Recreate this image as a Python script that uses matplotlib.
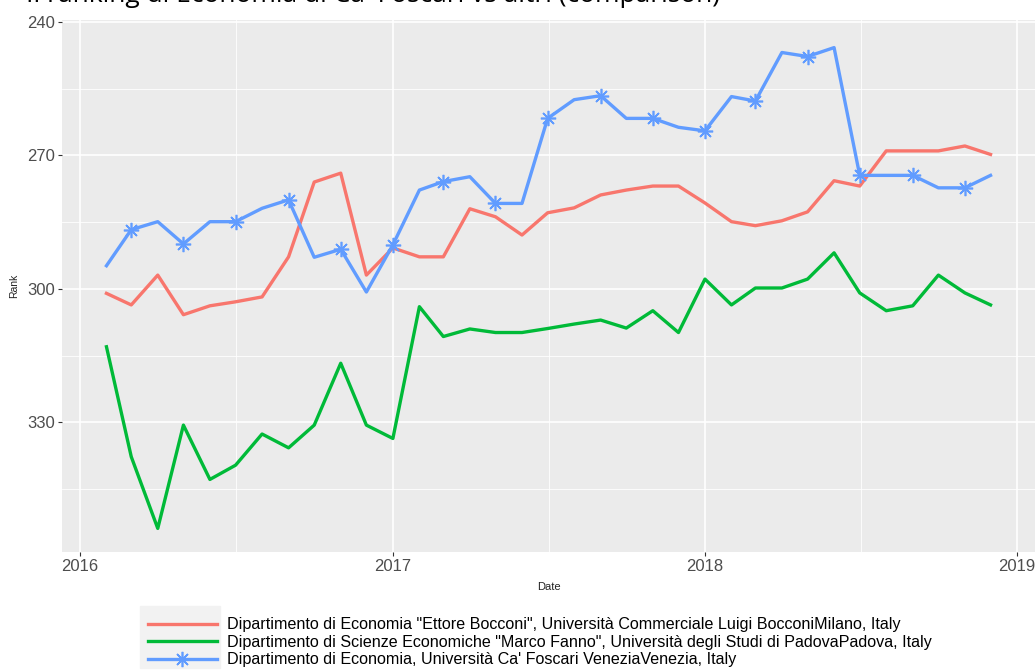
#### Workspace setup ####
import pandas as pd
import matplotlib
matplotlib.use("Agg")
import matplotlib.pyplot as plt
import matplotlib.dates as mdates
from matplotlib.patches import Rectangle

# 1) Data (monthly, Feb 2016 - Dec 2018)
months = pd.date_range("2016-02-01", periods=35, freq="MS")

bocconi = [301, 303.6, 296.9, 305.8, 303.8, 302.9, 301.8, 292.8, 276, 274,
           296.9, 290.8, 292.8, 292.8, 282, 283.8, 287.9, 282.9, 281.8, 278.9,
           277.8, 276.9, 276.9, 280.7, 284.9, 285.8, 284.7, 282.7, 275.7, 276.9,
           269, 269, 269, 267.9, 269.8]
padova = [313, 337.7, 353.8, 330.6, 342.8, 339.6, 332.6, 335.7, 330.6, 316.7,
          330.6, 333.6, 304, 310.7, 309, 309.8, 309.8, 308.9, 307.9, 307,
          308.8, 304.9, 309.8, 297.8, 303.6, 299.8, 299.8, 297.8, 291.9, 300.9,
          304.9, 303.8, 296.9, 300.9, 303.6]
venezia = [294.8, 286.7, 284.9, 289.9, 284.9, 284.9, 281.9, 280, 292.9, 291.1,
           300.7, 290.1, 277.8, 275.9, 274.8, 280.8, 280.8, 261.7, 257.5, 256.6,
           261.7, 261.7, 263.7, 264.5, 256.8, 257.8, 246.9, 247.8, 245.8, 274.5,
           274.5, 274.5, 277.3, 277.3, 274.5]

labels = [
    'Dipartimento di Economia "Ettore Bocconi", Università Commerciale Luigi BocconiMilano, Italy',
    'Dipartimento di Scienze Economiche "Marco Fanno", Università degli Studi di PadovaPadova, Italy',
    "Dipartimento di Economia, Università Ca' Foscari VeneziaVenezia, Italy",
]
title = "Il ranking di Economia di Ca' Foscari vs altri (comparison)"

# 2) Plot
plt.rcParams["font.family"] = ["Liberation Sans", "DejaVu Sans"]
fig = plt.figure(figsize=(10.36, 6.70), dpi=100)
ax = fig.add_axes([62 / 1036, 1 - 552 / 670, 973 / 1036, 532 / 670])
ax.set_facecolor("#EBEBEB")

ax.plot(months, bocconi, color="#F8766D", lw=2.4, label=labels[0])
ax.plot(months, padova, color="#00BA38", lw=2.4, label=labels[1])
ax.plot(months, venezia, color="#619CFF", lw=2.4, marker=(8, 2, 0),
        markersize=11, markeredgewidth=1.2, markevery=(1, 2), label=labels[2])

# axes: reversed rank scale, ggplot-like grid
ax.set_ylim(359.1, 239.6)
ax.set_yticks([240, 270, 300, 330])
ax.set_yticks([255, 285, 315, 345], minor=True)
ax.set_xlim(mdates.date2num(pd.Timestamp("2015-12-11")),
            mdates.date2num(pd.Timestamp("2019-01-22")))
ax.set_xticks([pd.Timestamp(f"{y}-01-01") for y in range(2016, 2020)])
ax.set_xticks([pd.Timestamp(f"{y}-07-02") for y in range(2016, 2019)], minor=True)
ax.xaxis.set_major_formatter(mdates.DateFormatter("%Y"))
ax.grid(which="major", color="white", lw=1.2)
ax.grid(which="minor", color="white", lw=0.6)
ax.set_axisbelow(True)
for s in ax.spines.values():
    s.set_visible(False)
ax.tick_params(which="major", length=3, color="#333333", labelsize=12,
               labelcolor="#4D4D4D", pad=2)
ax.tick_params(which="minor", length=0)

ax.set_xlabel("Date", fontsize=8, color="#222222", labelpad=6)
ax.set_ylabel("Rank", fontsize=7.5, color="#222222", labelpad=6)

# title: only its lower edge shows at the very top, as in the reference
fig.text(26 / 1036, 1 - 2 / 670, title, fontsize=19, family="Open Sans",
         va="baseline", ha="left", color="black")

# legend at the bottom with grey key area
fig.patches.append(Rectangle((140 / 1036, 2 / 670), 80 / 1036, 62 / 670,
                             transform=fig.transFigure, color="#F2F2F2", zorder=0))
fig.legend(loc="lower left", bbox_to_anchor=(138 / 1036, -7 / 670), frameon=False,
           fontsize=11.6, handlelength=4.3, handletextpad=0.6, labelspacing=0.15,
           borderaxespad=0.2)

fig.savefig("out.png", dpi=100)
